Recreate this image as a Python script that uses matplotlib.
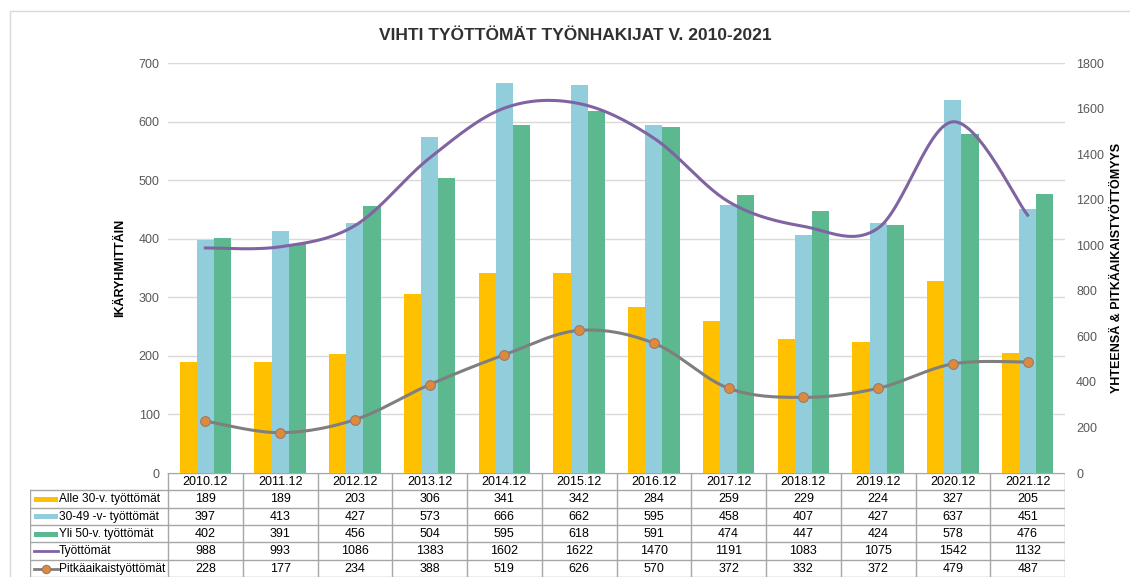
import numpy as np
import matplotlib
matplotlib.use("Agg")
import matplotlib.pyplot as plt
from matplotlib.patches import Rectangle

plt.rcParams['font.family'] = ['Liberation Sans', 'DejaVu Sans']

categories = ["2010.12", "2011.12", "2012.12", "2013.12", "2014.12", "2015.12",
              "2016.12", "2017.12", "2018.12", "2019.12", "2020.12", "2021.12"]
alle30 = [189, 189, 203, 306, 341, 342, 284, 259, 229, 224, 327, 205]
v30_49 = [397, 413, 427, 573, 666, 662, 595, 458, 407, 427, 637, 451]
yli50 = [402, 391, 456, 504, 595, 618, 591, 474, 447, 424, 578, 476]
tyottomat = [988, 993, 1086, 1383, 1602, 1622, 1470, 1191, 1083, 1075, 1542, 1132]
pitka = [228, 177, 234, 388, 519, 626, 570, 372, 332, 372, 479, 487]

series_names = ["Alle 30-v. työttömät", "30-49 -v- työttömät", "Yli 50-v. työttömät",
                "Työttömät", "Pitkäaikaistyöttömät"]

c_orange = "#FFC000"
c_blue = "#92CDDC"
c_green = "#5CB88F"
c_purple = "#8064A2"
c_grey = "#7F7F7F"
c_marker = "#DE8A3E"
txt = "#303030"


def smooth(xs, ys, n=30):
    xs = np.asarray(xs, float)
    ys = np.asarray(ys, float)
    P = np.column_stack([xs, ys])
    out = []
    for i in range(len(P) - 1):
        p0 = P[i - 1] if i > 0 else P[i]
        p1 = P[i]
        p2 = P[i + 1]
        p3 = P[i + 2] if i + 2 < len(P) else P[i + 1]
        c1 = p1 + (p2 - p0) / 6.0
        c2 = p2 - (p3 - p1) / 6.0
        t = np.linspace(0, 1, n)[:, None]
        seg = ((1 - t) ** 3) * p1 + 3 * ((1 - t) ** 2) * t * c1 + 3 * (1 - t) * t ** 2 * c2 + t ** 3 * p2
        out.append(seg if i == 0 else seg[1:])
    s = np.vstack(out)
    return s[:, 0], s[:, 1]


W, H = 1130, 577
fig = plt.figure(figsize=(W / 100, H / 100), dpi=100)

# border
border = fig.add_axes([0, 0, 1, 1])
border.set_xlim(0, W)
border.set_ylim(H, 0)
border.axis('off')
border.plot([10, 10, W], [H, 11, 11], color="#D9D9D9", lw=1)

L, R, T, B = 168, 1065, 63, 473
ax = fig.add_axes([L / W, 1 - B / H, (R - L) / W, (B - T) / H])
x = np.arange(len(categories))
bw = 0.23
ax.bar(x - bw, alle30, bw, color=c_orange, zorder=2)
ax.bar(x, v30_49, bw, color=c_blue, zorder=2)
ax.bar(x + bw, yli50, bw, color=c_green, zorder=2)
ax.set_xlim(-0.5, len(categories) - 0.5)
ax.set_ylim(0, 700)
ax.set_yticks(range(0, 701, 100))
ax.yaxis.grid(True, color="#D9D9D9", lw=1)
ax.set_axisbelow(True)
ax.set_xticks([])
for s in ax.spines.values():
    s.set_visible(False)
ax.tick_params(axis='y', length=0, labelsize=9, labelcolor="#595959", pad=6)
ax.set_ylabel("IKÄRYHMITTÄIN", fontsize=9, fontweight='bold', color="#000000", labelpad=9)

ax2 = ax.twinx()
ax2.set_ylim(0, 1800)
ax2.set_yticks(range(0, 1801, 200))
for s in ax2.spines.values():
    s.set_visible(False)
ax2.tick_params(axis='y', length=0, labelsize=9, labelcolor="#595959", pad=8)
ax2.set_ylabel("YHTEENSÄ & PITKÄAIKAISTYÖTTÖMYYS", fontsize=9, fontweight='bold',
               color="#000000", labelpad=5)
sx, sy = smooth(x, tyottomat)
ax2.plot(sx, sy, color=c_purple, lw=2.2, zorder=3)
px, py = smooth(x, pitka)
ax2.plot(px, py, color=c_grey, lw=2.2, zorder=3)
ax2.plot(x, pitka, ls='none', marker='o', ms=7, mfc=c_marker, mec="#9A7A66", mew=0.8, zorder=4)

fig.text(0.509, 1 - 35 / H, "VIHTI TYÖTTÖMÄT TYÖNHAKIJAT V. 2010-2021", ha='center', va='center',
         fontsize=12.5, fontweight='bold', color=txt)

# data table
TL = 30
tab = fig.add_axes([TL / W, 0, (R - TL) / W, (H - B) / H])
catw = (R - L) / len(categories)
leg_w = (L - TL) / catw
tab.set_xlim(-0.5 - leg_w, len(categories) - 0.5)
tab.set_ylim(6, 0)
tab.axis('off')
gc = "#A6A6A6"
x0 = -0.5 - leg_w
xe = len(categories) - 0.5
tab.plot([-0.5, xe], [0, 0], color=gc, lw=1)
for r in range(1, 7):
    yy = r - 0.02 if r == 6 else r
    tab.plot([x0, xe], [yy, yy], color=gc, lw=1)
tab.plot([x0, x0], [1, 5.98], color=gc, lw=1)
for i in range(len(categories) + 1):
    tab.plot([i - 0.5, i - 0.5], [0, 5.98], color=gc, lw=1)
for i, c in enumerate(categories):
    tab.text(i, 0.52, c, ha='center', va='center', fontsize=9, color="#000000")
rows = [alle30, v30_49, yli50, tyottomat, pitka]
for r, vals in enumerate(rows):
    for i, v in enumerate(vals):
        tab.text(i, r + 1.52, str(v), ha='center', va='center', fontsize=9, color="#000000")
# legend keys
kx0 = x0 + 0.05
kx1 = x0 + 0.37
for r, col in enumerate([c_orange, c_blue, c_green]):
    tab.add_patch(Rectangle((kx0, r + 1.38), kx1 - kx0, 0.3, color=col, lw=0))
tab.plot([kx0, kx1], [4.52, 4.52], color=c_purple, lw=2)
tab.plot([kx0, kx1], [5.52, 5.52], color=c_grey, lw=2)
tab.plot([(kx0 + kx1) / 2], [5.52], marker='o', ms=6, mfc=c_marker, mec="#9A7A66", mew=0.8)
for r, name in enumerate(series_names):
    tab.text(kx1 + 0.02, r + 1.52, name, ha='left', va='center', fontsize=8.6, color="#000000")

fig.savefig("out.png", dpi=100)
